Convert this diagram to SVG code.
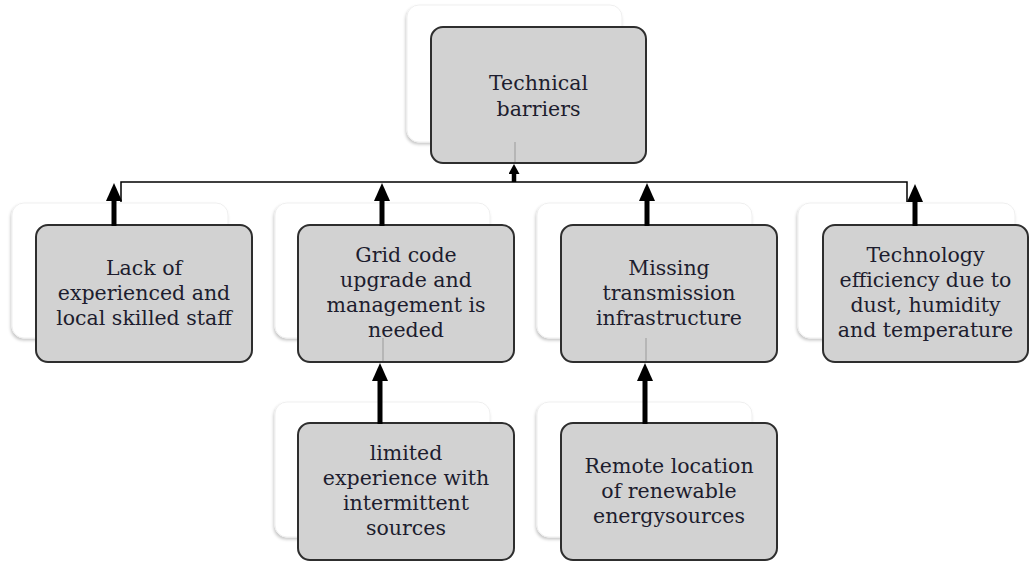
<svg xmlns="http://www.w3.org/2000/svg" width="1030" height="563" viewBox="0 0 1030 563">
<defs>
<filter id="sh" x="-10%" y="-10%" width="120%" height="125%">
<feDropShadow dx="-1" dy="2" stdDeviation="1.5" flood-color="#000" flood-opacity="0.22"/>
</filter>
<marker id="ah" markerUnits="userSpaceOnUse" markerWidth="18" markerHeight="16" refX="0" refY="8" orient="auto" viewBox="0 0 18 16">
<path d="M0,0 L18,8 L0,16 z" fill="#000"/>
</marker>
<marker id="ahs" markerUnits="userSpaceOnUse" markerWidth="10" markerHeight="11" refX="0" refY="5.5" orient="auto" viewBox="0 0 10 11">
<path d="M0,0 L10,5.5 L0,11 z" fill="#000"/>
</marker>
</defs>
<style>
.back{fill:#fff;stroke:#efefef;stroke-width:1;filter:url(#sh)}
.front{fill:#d2d2d2;stroke:#2e2e2e;stroke-width:2}
.t{font-family:"DejaVu Serif",serif;font-size:20.5px;fill:#1d1d2e;text-anchor:middle}
.bus{fill:none;stroke:#000;stroke-width:1.5}
.arr{stroke:#000;stroke-width:5;fill:none;marker-end:url(#ah)}
.arrs{stroke:#000;stroke-width:4.5;fill:none;marker-end:url(#ahs)}
.thin{stroke:#9a9a9a;stroke-width:1}
</style>
<rect width="1030" height="563" fill="#fff"/>
<g id="technical-barriers">
<rect class="back" x="407" y="5" width="215" height="137" rx="12"/>
<rect class="front" x="431" y="27" width="215" height="136" rx="12"/>
<text class="t" x="538.5" y="90">Technical</text>
<text class="t" x="538.5" y="116">barriers</text>
</g>
<g id="lack-of-staff">
<rect class="back" x="12" y="203" width="216" height="135" rx="12"/>
<rect class="front" x="36" y="225" width="216" height="137" rx="12"/>
<text class="t" x="144" y="275">Lack of</text>
<text class="t" x="144" y="300">experienced and</text>
<text class="t" x="144" y="325">local skilled staff</text>
</g>
<g id="grid-code">
<rect class="back" x="275" y="203" width="215" height="135" rx="12"/>
<rect class="front" x="298" y="225" width="216" height="137" rx="12"/>
<text class="t" x="406" y="262">Grid code</text>
<text class="t" x="406" y="287">upgrade and</text>
<text class="t" x="406" y="312">management is</text>
<text class="t" x="406" y="337">needed</text>
</g>
<g id="missing-transmission">
<rect class="back" x="537" y="203" width="215" height="135" rx="12"/>
<rect class="front" x="561" y="225" width="216" height="137" rx="12"/>
<text class="t" x="669" y="275">Missing</text>
<text class="t" x="669" y="300">transmission</text>
<text class="t" x="669" y="325">infrastructure</text>
</g>
<g id="technology-efficiency">
<rect class="back" x="798" y="203" width="217" height="135" rx="12"/>
<rect class="front" x="823" y="225" width="205" height="137" rx="12"/>
<text class="t" x="925.5" y="262">Technology</text>
<text class="t" x="925.5" y="287">efficiency due to</text>
<text class="t" x="925.5" y="312">dust, humidity</text>
<text class="t" x="925.5" y="337">and temperature</text>
</g>
<g id="limited-experience">
<rect class="back" x="275" y="402" width="215" height="135" rx="12"/>
<rect class="front" x="298" y="423" width="216" height="137" rx="12"/>
<text class="t" x="406" y="460">limited</text>
<text class="t" x="406" y="485">experience with</text>
<text class="t" x="406" y="510">intermittent</text>
<text class="t" x="406" y="535">sources</text>
</g>
<g id="remote-location">
<rect class="back" x="537" y="402" width="215" height="135" rx="12"/>
<rect class="front" x="561" y="423" width="216" height="137" rx="12"/>
<text class="t" x="669" y="473">Remote location</text>
<text class="t" x="669" y="498">of renewable</text>
<text class="t" x="669" y="523">energysources</text>
</g>
<g id="connectors">
<polyline class="bus" points="121,202 121,182 907,182 907,202"/>
<line class="arrs" x1="514" y1="182" x2="514" y2="174"/>
<line class="thin" x1="515" y1="142" x2="515" y2="162"/>
<line class="arr" x1="114" y1="226" x2="114" y2="201"/>
<line class="arr" x1="382" y1="226" x2="382" y2="201"/>
<line class="arr" x1="647" y1="226" x2="647" y2="201"/>
<line class="arr" x1="915" y1="226" x2="915" y2="202"/>
<line class="arr" x1="380" y1="424" x2="380" y2="381"/>
<line class="arr" x1="645" y1="424" x2="645" y2="381"/>
<line class="thin" x1="383" y1="338" x2="383" y2="361"/>
<line class="thin" x1="646" y1="338" x2="646" y2="361"/>
</g>
</svg>
